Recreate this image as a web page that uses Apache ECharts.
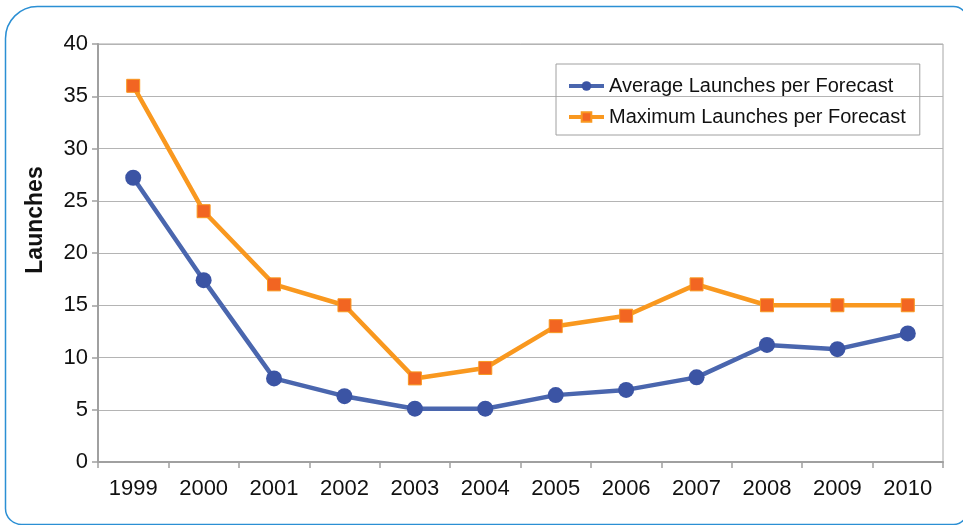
<!DOCTYPE html>
<html lang="en">

<head>
    <meta charset="UTF-8">
    <title>Launches per Forecast</title>
    <script src="https://cdn.jsdelivr.net/npm/echarts@6.0.0/dist/echarts.min.js"></script>
    <style>
        body { margin: 0; background: #fff; }
    </style>
</head>

<body>
    <div id="main" style="width: 963px;height:525px;"></div>

    <script type="text/javascript">
        // Data
        let years = ['1999', '2000', '2001', '2002', '2003', '2004', '2005', '2006', '2007', '2008', '2009', '2010'];
        let averageLaunches = [27.2, 17.4, 8.0, 6.3, 5.1, 5.1, 6.4, 6.9, 8.1, 11.2, 10.8, 12.3];
        let maximumLaunches = [36, 24, 17, 15, 8, 9, 13, 14, 17, 15, 15, 15];

        let myChart = echarts.init(document.getElementById('main'));

        let font = 'Liberation Sans, Arial, sans-serif';

        let options = {
            animation: false,
            textStyle: { fontFamily: font },
            graphic: [
                {
                    // rounded frame around the chart
                    type: 'rect',
                    shape: { x: 5.5, y: 6.5, width: 962, height: 518, r: [32, 14, 14, 16] },
                    style: { fill: 'none', stroke: '#2b8fd4', lineWidth: 1.5 }
                },
                {
                    type: 'text',
                    x: 36,
                    y: 220,
                    rotation: Math.PI / 2,
                    style: {
                        text: 'Launches',
                        font: 'bold 23px ' + font,
                        fill: '#111',
                        align: 'center',
                        verticalAlign: 'middle'
                    }
                }
            ],
            grid: {
                left: 98,
                top: 44,
                right: 20,
                bottom: 63,
                show: true,
                borderColor: '#a6a6a6',
                borderWidth: 1
            },
            legend: {
                orient: 'vertical',
                left: 556,
                top: 64,
                padding: [11, 14, 7, 11],
                itemGap: 9,
                itemWidth: 35,
                itemHeight: 12,
                borderColor: '#a0a0a0',
                borderWidth: 1,
                lineStyle: { width: 4 },
                textStyle: { fontSize: 20, color: '#111', lineHeight: 22, fontFamily: font }
            },
            xAxis: {
                type: 'category',
                data: years,
                boundaryGap: true,
                axisLine: { lineStyle: { color: '#a0a0a0', width: 2 } },
                axisTick: { show: true, length: 6, lineStyle: { color: '#a0a0a0', width: 1.5 } },
                axisLabel: { fontSize: 22, color: '#111', margin: 16, fontFamily: font }
            },
            yAxis: {
                type: 'value',
                min: 0,
                max: 40,
                interval: 5,
                axisLine: { show: true, lineStyle: { color: '#a0a0a0', width: 2 } },
                axisTick: { show: true, length: 6, lineStyle: { color: '#a0a0a0', width: 1.5 } },
                axisLabel: { fontSize: 22, color: '#111', margin: 10, fontFamily: font },
                splitLine: { lineStyle: { color: '#b4b4b4', width: 1.2 } }
            },
            series: [
                {
                    name: 'Average Launches per Forecast',
                    type: 'line',
                    data: averageLaunches,
                    symbol: 'circle',
                    symbolSize: 16,
                    lineStyle: { color: '#4a66ae', width: 4.5 },
                    itemStyle: { color: '#3b54a4', borderColor: '#3b54a4', borderWidth: 0 }
                },
                {
                    name: 'Maximum Launches per Forecast',
                    type: 'line',
                    data: maximumLaunches,
                    symbol: 'rect',
                    symbolSize: 13,
                    lineStyle: { color: '#f9981f', width: 4.5 },
                    itemStyle: { color: '#f26522', borderColor: '#f9981f', borderWidth: 1 }
                }
            ]
        };

        myChart.setOption(options);
    </script>
</body>

</html>
